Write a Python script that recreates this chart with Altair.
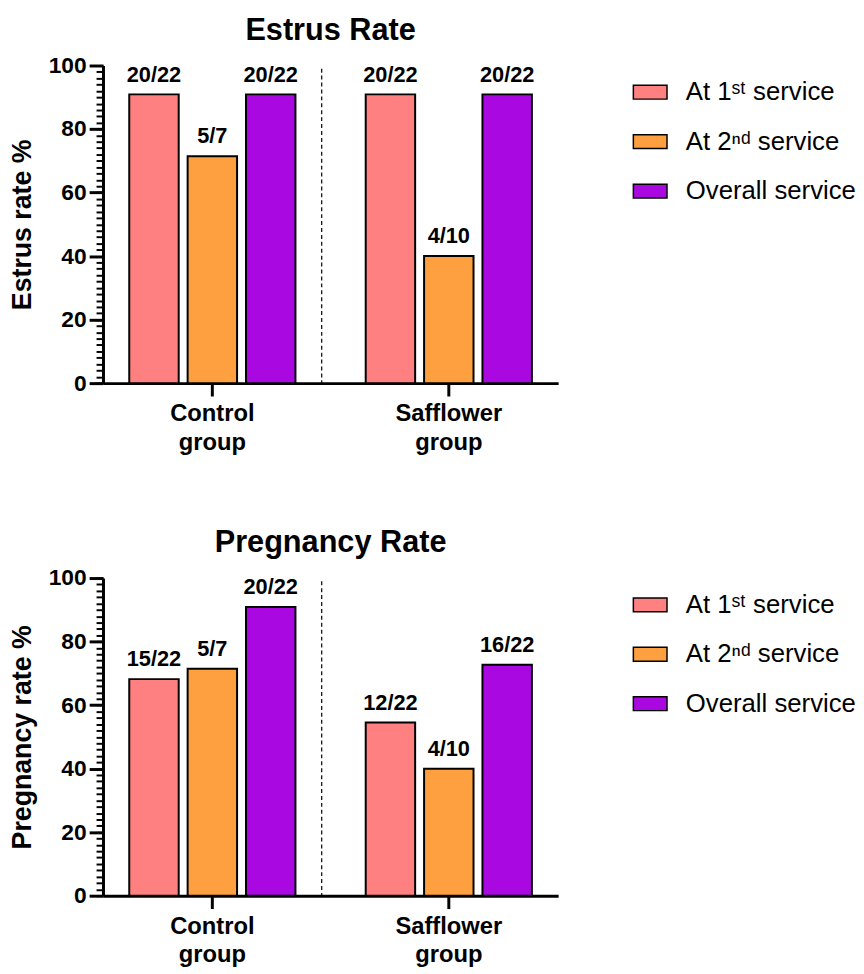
import altair as alt
import pandas as pd

FONT = "Arial, Liberation Sans, sans-serif"

groups = ["Control group", "Safflower group"]
series = ["At 1ˢᵗ service", "At 2ⁿᵈ service", "Overall service"]
colors = ["#FF8080", "#FFA040", "#AA08E0"]

estrus_num = [20, 5, 20, 20, 4, 20]
estrus_den = [22, 7, 22, 22, 10, 22]
preg_num = [15, 5, 20, 12, 4, 16]
preg_den = [22, 7, 22, 22, 10, 22]

major_ticks = [0, 20, 40, 60, 80, 100]
minor_ticks = list(range(0, 101, 2))


def make_df(nums, dens):
    rows = []
    i = 0
    for g in groups:
        for s in series:
            rows.append({
                "group": g,
                "series": s,
                "pct": nums[i] / dens[i] * 100,
                "label": f"{nums[i]}/{dens[i]}",
            })
            i += 1
    return pd.DataFrame(rows)


YSCALE = alt.Scale(domain=[0, 100], nice=False)


def panel(df, title, ytitle):
    x = alt.X(
        "group:N",
        sort=groups,
        scale=alt.Scale(domain=groups, paddingInner=0.075, paddingOuter=0),
        axis=alt.Axis(
            title=None, labelAngle=0,
            labelExpr="split(datum.label, ' ')",
            labelFont=FONT, labelFontWeight="bold", labelFontSize=24,
            labelLineHeight=29, labelColor="black", labelPadding=6,
            tickSize=13, tickWidth=3, tickColor="black",
            domainWidth=3, domainColor="black",
        ),
    )
    xo = alt.XOffset(
        "series:N", sort=series,
        scale=alt.Scale(domain=series, paddingInner=0.153, paddingOuter=0.45),
    )
    y = alt.Y(
        "pct:Q",
        scale=YSCALE,
        axis=alt.Axis(
            orient="left",
            title=ytitle, titleFont=FONT, titleFontWeight="bold",
            titleFontSize=27, titleColor="black", titlePadding=12,
            values=major_ticks, labelOverlap=False,
            labelFont=FONT, labelFontWeight="bold", labelFontSize=23,
            labelColor="black", labelPadding=3,
            tickSize=14, tickWidth=3,
            tickColor="black", domainWidth=3, domainColor="black",
            grid=False,
        ),
    )
    color = alt.Color(
        "series:N",
        sort=series,
        scale=alt.Scale(domain=series, range=colors),
        legend=alt.Legend(
            title=None, orient="none", legendX=535, legendY=9,
            symbolType="M-1,-0.41H1V0.41H-1Z", symbolSize=1156,
            symbolStrokeColor="black", symbolStrokeWidth=1.5, symbolOpacity=1,
            labelFont=FONT, labelFontSize=26, labelColor="black",
            labelLimit=400, rowPadding=19, labelOffset=18,
        ),
    )
    bars = alt.Chart(df).mark_bar(stroke="black", strokeWidth=2, opacity=1).encode(
        x=x, xOffset=xo, y=y, color=color
    )
    text = alt.Chart(df).mark_text(
        font=FONT, fontWeight="bold", fontSize=22, dy=-13,
        baseline="alphabetic", color="black",
    ).encode(
        x=x, xOffset=xo,
        y=alt.Y("pct:Q", scale=YSCALE, axis=None),
        text="label:N",
    )
    sep = pd.DataFrame({"g": [groups[0]], "top": [99], "bot": [0]})
    rule = alt.Chart(sep).mark_rule(
        strokeDash=[4, 3], color="black", strokeWidth=1.2
    ).encode(
        x=alt.X("g:N", bandPosition=1),
        y=alt.Y(
            "top:Q", scale=YSCALE,
            axis=alt.Axis(
                orient="left", title=None, values=minor_ticks,
                labels=False, domain=False, grid=False,
                tickSize=7, tickWidth=2, tickColor="black",
            ),
        ),
        y2="bot:Q",
    )
    return alt.layer(bars, text, rule).resolve_axis(y="independent").properties(
        width=460, height=321,
        title=alt.Title(title, font=FONT, fontSize=31, fontWeight="bold",
                        color="black", offset=8, anchor="middle", frame="group"),
    )


top = panel(make_df(estrus_num, estrus_den), "Estrus Rate", "Estrus rate %")
bottom = panel(make_df(preg_num, preg_den), "Pregnancy Rate", "Pregnancy rate %")

chart = alt.vconcat(top, bottom, spacing=74).resolve_scale(
    color="independent"
).properties(
    padding={"left": 0, "top": 2, "right": 0, "bottom": 0}
).configure_view(stroke=None)

chart.save("out.html", embed_options={"renderer": "svg", "actions": False})
